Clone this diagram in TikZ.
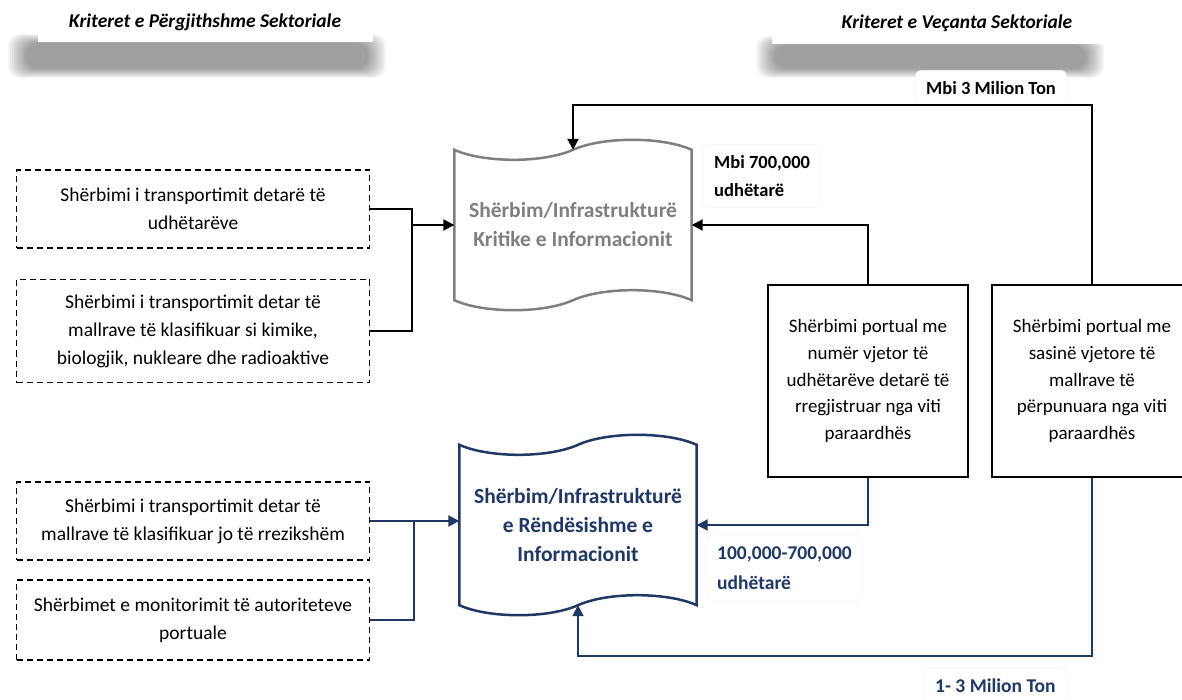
\documentclass[tikz,border=0pt]{standalone}
\usepackage{fontspec}
\setmainfont{Carlito}
\usetikzlibrary{arrows.meta}

\definecolor{navy}{HTML}{1F3864}
\definecolor{critgray}{HTML}{7F7F7F}

% wavy outline round a tape node
\newcommand{\tapeline}[4]{%
  \pgfmathsetmacro{\tq}{#2/8}\pgfmathsetmacro{\ta}{4*#3/3}%
  \draw[#4] (#1.north west) .. controls +(\tq,\ta) and +(-\tq,\ta) .. (#1.north)
    .. controls +(\tq,-\ta) and +(-\tq,-\ta) .. (#1.north east) -- (#1.south east)
    .. controls +(-\tq,-\ta) and +(\tq,-\ta) .. (#1.south)
    .. controls +(-\tq,\ta) and +(\tq,\ta) .. (#1.south west) -- cycle;}

\tikzset{
  headbox/.style={fill=white, inner sep=0pt, font=\fontsize{19.5}{24}\selectfont\bfseries\itshape},
  dashbox/.style={draw, dash pattern=on 6pt off 4pt, line width=1.3pt, minimum width=353pt,
    align=center, inner sep=0pt, font=\fontsize{19.5}{28}\selectfont},
  tapetxt/.style={align=center, inner sep=0pt, font=\fontsize{21.5}{29}\selectfont\bfseries},
  portbox/.style={draw, line width=1.8pt, minimum width=200pt, minimum height=192pt,
    align=center, inner sep=0pt, font=\fontsize{19}{26.7}\selectfont},
  tag/.style={draw=black!6, fill=white, rounded corners=6pt, inner sep=11pt,
    font=\fontsize{18.5}{28}\selectfont\bfseries},
  link/.style={line width=2pt},
  navylink/.style={line width=2pt, navy},
  arrowed/.style={-{Triangle[length=11pt,width=11pt]}}
}

\begin{document}
\begin{tikzpicture}[x=1pt,y=-1pt]
\useasboundingbox (0,0) rectangle (1182,700);
\fill[white] (0,0) rectangle (1182,700);

% soft shadows under the two headers
\foreach \i in {0,...,9} {
  \fill[black,opacity=0.045,rounded corners=12pt] (8+2*\i,34+\i) rectangle (386-2*\i,78-\i);
  \fill[black,opacity=0.045,rounded corners=12pt] (756+2*\i,36+\i) rectangle (1104-2*\i,78-\i);
}
\node[headbox, minimum width=335pt, minimum height=40pt] (hdLeft) at (205,22) {Kriteret e Përgjithshme Sektoriale};
\node[headbox, minimum width=370pt, minimum height=42pt] (hdRight) at (957,23) {Kriteret e Veçanta Sektoriale};

% left side services
\node[dashbox, minimum height=78pt] (svcPass) at (193,209) {Shërbimi i transportimit detarë të\\udhëtarëve};
\node[dashbox, minimum height=103pt] (svcHaz) at (193,331) {Shërbimi i transportimit detar të\\mallrave të klasifikuar si kimike,\\biologjik, nukleare dhe radioaktive};
\node[dashbox, minimum height=78pt] (svcCargo) at (193,521) {Shërbimi i transportimit detar të\\mallrave të klasifikuar jo të rrezikshëm};
\node[dashbox, minimum height=80pt] (svcMon) at (193,620) {Shërbimet e monitorimit të autoriteteve\\portuale};

% the two classes
\node[tapetxt, text=critgray, minimum width=237pt, minimum height=150pt] (crit) at (573,225) {Shërbim/Infrastrukturë\\Kritike e Informacionit};
\node[tapetxt, text=navy, minimum width=237pt, minimum height=160pt] (imp) at (578,525) {Shërbim/Infrastrukturë\\e Rëndësishme e\\Informacionit};
\tapeline{crit}{237}{10}{critgray, line width=2.5pt}
\tapeline{imp}{237}{10}{navy, line width=2.5pt}

% port services
\node[portbox] (portPass) at (868,381) {Shërbimi portual me\\numër vjetor të\\udhëtarëve detarë të\\rregjistruar nga viti\\paraardhës};
\node[portbox] (portCargo) at (1092,381) {Shërbimi portual me\\sasinë vjetore të\\mallrave të\\përpunuara nga viti\\paraardhës};

% thresholds
\node[tag] (tagTop) at (991,88) {Mbi 3 Milion Ton};
\node[tag, anchor=west, align=left] (tagHi) at (703,176) {Mbi 700,000\\udhëtarë};
\node[tag, anchor=west, align=left, text=navy, font=\fontsize{19.5}{30}\selectfont\bfseries] (tagMid) at (706,568) {100,000-700,000\\udhëtarë};
\node[tag, anchor=west, text=navy, font=\fontsize{19.5}{28}\selectfont\bfseries] (tagLow) at (924,686) {1- 3 Milion Ton};

\coordinate (jTop) at (412,225);
\coordinate (jBot) at (414,521);
\coordinate (bendTop) at (1092,105);
\coordinate (bendBot) at (1092,656);

% connectors
\draw[link] (svcPass.east) -| (jTop) |- (svcHaz.east);
\draw[link, arrowed] (jTop) -- (crit.west);
\draw[navylink, arrowed] (svcCargo.east) -- (imp.west |- svcCargo.east);
\draw[navylink] (svcMon.east) -| (jBot);
\draw[link, arrowed] (portPass.north) |- (crit.east);
\draw[link, arrowed] (portCargo.north) -- (bendTop) -| (crit.north);
\draw[navylink, arrowed] (portPass.south) |- (imp.east);
\draw[navylink, arrowed] (portCargo.south) -- (bendBot) -| (imp.south);
\end{tikzpicture}
\end{document}
